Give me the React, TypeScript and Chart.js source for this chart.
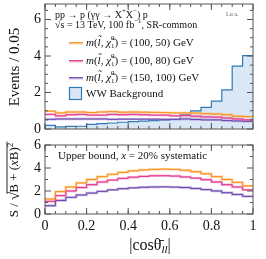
import React, { useEffect, useRef } from 'react';
import { Chart, registerables } from 'chart.js';
Chart.register(...registerables);

// ---------- data ----------
const binEdges = [0, 0.05, 0.1, 0.15, 0.2, 0.25, 0.3, 0.35, 0.4, 0.45, 0.5, 0.55, 0.6, 0.65, 0.7, 0.75, 0.8, 0.85, 0.9, 0.95];
const upperEdge = 1;
const wwBackground = [0.2, 0.12, 0.14, 0.15, 0.25, 0.29, 0.33, 0.37, 0.4, 0.43, 0.46, 0.49, 0.53, 0.8, 0.99, 1.19, 1.53, 2.14, 3.45, 4.02];
const events100_50 = [0.98, 0.88, 0.93, 0.93, 0.9, 0.93, 0.95, 0.92, 0.93, 0.92, 0.91, 0.9, 0.88, 0.88, 0.87, 0.84, 0.82, 0.78, 0.7, 0.68];
const events100_80 = [0.8, 0.72, 0.78, 0.8, 0.76, 0.76, 0.8, 0.78, 0.8, 0.78, 0.76, 0.76, 0.72, 0.74, 0.7, 0.66, 0.65, 0.6, 0.55, 0.5];
const events150_100 = [0.53, 0.55, 0.55, 0.55, 0.55, 0.55, 0.53, 0.54, 0.54, 0.54, 0.54, 0.53, 0.53, 0.55, 0.52, 0.5, 0.5, 0.46, 0.44, 0.42];
const signif100_50 = [1.3, 1.95, 2.35, 2.7, 3.0, 3.25, 3.45, 3.62, 3.75, 3.83, 3.88, 3.9, 3.88, 3.8, 3.68, 3.5, 3.25, 3.0, 2.75, 2.45];
const signif100_80 = [1.1, 1.6, 2.0, 2.3, 2.55, 2.78, 2.95, 3.1, 3.2, 3.27, 3.32, 3.33, 3.3, 3.22, 3.12, 2.98, 2.78, 2.55, 2.35, 2.1];
const signif150_100 = [0.72, 1.18, 1.45, 1.65, 1.82, 1.97, 2.1, 2.2, 2.27, 2.32, 2.35, 2.36, 2.34, 2.3, 2.22, 2.12, 2.0, 1.85, 1.7, 1.53];
const massLabels = ['(100, 50) GeV', '(100, 80) GeV', '(150, 100) GeV'];
const backgroundLabel = 'WW Background';
const xTicks = [0, 0.2, 0.4, 0.6, 0.8, 1];
const topYTicks = [0, 2, 4, 6];
const topYMinor = [0.5, 1, 1.5, 2.5, 3, 3.5, 4.5, 5, 5.5, 6.5];
const bottomYTicks = [0, 2, 4, 6];
const bottomYMinor = [1, 3, 5];
const topYMax = 6.85;
const bottomYMax = 6;

// ---------- style ----------
const SERIF = '"Liberation Serif", "DejaVu Serif", serif';
const COLORS = [
  { line: '#f7901e', band: 'rgba(255,190,120,0.75)' },
  { line: '#e2318a', band: 'rgba(240,150,195,0.75)' },
  { line: '#6a44a8', band: 'rgba(175,155,215,0.75)' },
];
const BG_LINE = '#2c7bb8';
const BG_FILL = 'rgba(210,227,244,0.85)';

function toSteps(vals: number[]) {
  const pts = vals.map((v, i) => ({ x: binEdges[i], y: v }));
  pts.push({ x: upperEdge, y: vals[vals.length - 1] });
  return pts;
}

type Seg = { t: string; italic?: boolean; size?: number; dy?: number; dx?: number; noAdvance?: boolean };
function drawRich(ctx: CanvasRenderingContext2D, x: number, y: number, segs: Seg[], base: number) {
  let cx = x;
  for (const s of segs) {
    const size = s.size ?? base;
    ctx.font = `${s.italic ? 'italic ' : ''}${size}px ${SERIF}`;
    ctx.fillText(s.t, cx + (s.dx ?? 0), y + (s.dy ?? 0));
    if (!s.noAdvance) cx += ctx.measureText(s.t).width + (s.dx ?? 0);
  }
  return cx;
}

function lineSets(data: number[][], yAxis: string) {
  const out: any[] = [];
  data.forEach((vals, i) => {
    out.push({
      data: toSteps(vals), stepped: 'before', borderColor: COLORS[i].band, borderWidth: 2.4,
      pointRadius: 0, fill: false, order: 10 + i, yAxisID: yAxis,
    });
    out.push({
      data: toSteps(vals), stepped: 'before', borderColor: COLORS[i].line, borderWidth: 1,
      pointRadius: 0, fill: false, order: 1 + i, yAxisID: yAxis,
    });
  });
  return out;
}

const framePlugin = {
  id: 'frameTicks',
  afterDatasetsDraw(chart: any, _args: any, opts: any) {
    const { ctx, chartArea: a, scales } = chart;
    const xs = scales.x, ys = scales.y;
    ctx.save();
    ctx.strokeStyle = '#555';
    ctx.lineWidth = 1;
    ctx.strokeRect(a.left, a.top, a.right - a.left, a.bottom - a.top);
    ctx.beginPath();
    const xt = (v: number, len: number) => {
      const p = xs.getPixelForValue(v);
      ctx.moveTo(p, a.bottom); ctx.lineTo(p, a.bottom - len);
      ctx.moveTo(p, a.top); ctx.lineTo(p, a.top + len);
    };
    const yt = (v: number, len: number) => {
      const p = ys.getPixelForValue(v);
      ctx.moveTo(a.left, p); ctx.lineTo(a.left + len, p);
      ctx.moveTo(a.right, p); ctx.lineTo(a.right - len, p);
    };
    opts.xMinor.forEach((v: number) => xt(v, 3));
    opts.xMajor.forEach((v: number) => xt(v, 6));
    opts.yMinor.forEach((v: number) => yt(v, 3));
    opts.yMajor.forEach((v: number) => yt(v, 6));
    ctx.stroke();
    ctx.restore();
  },
};

const topTextPlugin = {
  id: 'topText',
  afterDraw(chart: any) {
    const ctx: CanvasRenderingContext2D = chart.ctx;
    ctx.save();
    ctx.fillStyle = '#111';
    ctx.textBaseline = 'middle';
    ctx.textAlign = 'left';
    drawRich(ctx, 55, 15, [{ t: 'pp → p (γγ → X' }, { t: '+', size: 7, dy: -4 }, { t: 'X' }, { t: '−', size: 7, dy: -4 }, { t: ') p' }], 10);
    drawRich(ctx, 55, 25.5, [{ t: '√s = 13 TeV, 100 fb' }, { t: '−1', size: 7, dy: -4 }, { t: ', SR-common' }], 10);
    ctx.font = `6px ${SERIF}`;
    ctx.fillStyle = '#666';
    ctx.fillText('Lu a.', 226, 14);
    ctx.fillStyle = '#111';
    const ys = [42.7, 60.7, 77.7];
    massLabels.forEach((lab, i) => {
      ctx.strokeStyle = COLORS[i].band; ctx.lineWidth = 2.4;
      ctx.beginPath(); ctx.moveTo(69, ys[i] + 0.5); ctx.lineTo(83, ys[i] + 0.5); ctx.stroke();
      ctx.strokeStyle = COLORS[i].line; ctx.lineWidth = 1;
      ctx.beginPath(); ctx.moveTo(69, ys[i]); ctx.lineTo(83, ys[i]); ctx.stroke();
      drawRich(ctx, 86, ys[i], [
        { t: 'm', italic: true }, { t: '(' }, { t: 'l\u0303', italic: true }, { t: ', ' },
        { t: 'χ\u0303', italic: true }, { t: '0', size: 7, dy: -5, noAdvance: true }, { t: '1', size: 7, dy: 3 },
        { t: ') = ' + lab },
      ], 11);
    });
    ctx.fillStyle = BG_FILL;
    ctx.fillRect(69.5, 87.5, 12, 12);
    ctx.strokeStyle = BG_LINE; ctx.lineWidth = 1.2;
    ctx.strokeRect(69.5, 87.5, 12, 12);
    ctx.fillStyle = '#111';
    drawRich(ctx, 86, 94, [{ t: backgroundLabel }], 11);
    // y title
    ctx.translate(15, 67);
    ctx.rotate(-Math.PI / 2);
    ctx.textAlign = 'center';
    ctx.font = `15px ${SERIF}`;
    ctx.fillText('Events / 0.05', 0, 0);
    ctx.restore();
  },
};

const bottomTextPlugin = {
  id: 'bottomText',
  afterDraw(chart: any) {
    const ctx: CanvasRenderingContext2D = chart.ctx;
    ctx.save();
    ctx.fillStyle = '#111';
    ctx.textBaseline = 'middle';
    ctx.textAlign = 'left';
    drawRich(ctx, 58, 21.5, [{ t: 'Upper bound, ' }, { t: 'x', italic: true }, { t: ' = 20% systematic' }], 11);
    // x title
    ctx.textBaseline = 'alphabetic';
    const xs: Seg[] = [{ t: '|cos' }, { t: 'θ\u0304' }, { t: 'll', italic: true, size: 11, dy: 3 }, { t: '|' }];
    let w = 0;
    xs.forEach((s) => { ctx.font = `${s.italic ? 'italic ' : ''}${s.size ?? 16}px ${SERIF}`; w += ctx.measureText(s.t).width; });
    drawRich(ctx, 150 - w / 2, 115, xs, 16);
    // y title
    ctx.translate(18, 45);
    ctx.rotate(-Math.PI / 2);
    const base = 13;
    const segA: Seg[] = [{ t: 'S / ' }];
    const segB: Seg[] = [{ t: 'B + (' }, { t: 'x', italic: true }, { t: 'B)' }, { t: '2', size: 9, dy: -5 }];
    const meas = (segs: Seg[]) => segs.reduce((acc, s) => { ctx.font = `${s.italic ? 'italic ' : ''}${s.size ?? base}px ${SERIF}`; return acc + ctx.measureText(s.t).width; }, 0);
    ctx.font = `${base}px ${SERIF}`;
    const wA = meas(segA), wS = ctx.measureText('√').width, wB = meas(segB);
    const total = wA + wS + wB;
    let x0 = -total / 2;
    x0 = drawRich(ctx, x0, 0, segA, base);
    ctx.font = `${base + 2}px ${SERIF}`;
    ctx.fillText('√', x0, 1);
    const sx = x0 + wS;
    ctx.strokeStyle = '#111'; ctx.lineWidth = 0.9;
    ctx.beginPath(); ctx.moveTo(sx - 1, -11); ctx.lineTo(sx + wB + 1, -11); ctx.stroke();
    drawRich(ctx, sx, 0, segB, base);
    ctx.restore();
  },
};

function axisY(ticks: number[], max: number) {
  return {
    min: 0, max,
    afterBuildTicks: (s: any) => { s.ticks = ticks.map((v) => ({ value: v })); },
    afterFit: (s: any) => { s.width = 45; s.paddingTop = 0; s.paddingBottom = 0; },
    grid: { display: false, drawTicks: false },
    border: { display: false },
    ticks: { font: { family: SERIF, size: 14 }, color: '#111', padding: 4, callback: (v: any) => String(v) },
  };
}

export default function App() {
  const topRef = useRef<HTMLCanvasElement>(null);
  const botRef = useRef<HTMLCanvasElement>(null);
  useEffect(() => {
    document.body.style.margin = '0';
    const top = new Chart(topRef.current!, {
      type: 'line',
      data: {
        datasets: [
          {
            data: toSteps(wwBackground), stepped: 'before', borderColor: BG_LINE, borderWidth: 1.2,
            backgroundColor: BG_FILL, fill: 'origin', pointRadius: 0, order: 30, yAxisID: 'y',
          } as any,
          ...lineSets([events100_50, events100_80, events150_100], 'y'),
        ],
      },
      options: {
        animation: false, responsive: false, maintainAspectRatio: false,
        layout: { padding: { left: 0, right: 13, top: 4, bottom: 11 } },
        scales: {
          x: { type: 'linear', min: 0, max: 1, display: false },
          y: axisY(topYTicks, topYMax) as any,
        },
        plugins: {
          legend: { display: false }, tooltip: { enabled: false },
          frameTicks: { xMajor: xTicks, xMinor: binEdges, yMajor: topYTicks, yMinor: topYMinor },
        } as any,
      },
      plugins: [framePlugin, topTextPlugin],
    });
    const bot = new Chart(botRef.current!, {
      type: 'line',
      data: { datasets: lineSets([signif100_50, signif100_80, signif150_100], 'y') },
      options: {
        animation: false, responsive: false, maintainAspectRatio: false,
        layout: { padding: { left: 0, right: 13, top: 10, bottom: 0 } },
        scales: {
          x: {
            type: 'linear', min: 0, max: 1,
            afterBuildTicks: (s: any) => { s.ticks = xTicks.map((v) => ({ value: v })); },
            afterFit: (s: any) => { s.height = 45; s.paddingLeft = 0; s.paddingRight = 0; },
            grid: { display: false, drawTicks: false },
            border: { display: false },
            ticks: { font: { family: SERIF, size: 14 }, color: '#111', padding: 4, maxRotation: 0, autoSkip: false, callback: (v: any) => String(v) },
          },
          y: axisY(bottomYTicks, bottomYMax) as any,
        },
        plugins: {
          legend: { display: false }, tooltip: { enabled: false },
          frameTicks: { xMajor: xTicks, xMinor: binEdges, yMajor: bottomYTicks, yMinor: bottomYMinor },
        } as any,
      },
      plugins: [framePlugin, bottomTextPlugin],
    });
    return () => { top.destroy(); bot.destroy(); };
  }, []);
  return (
    <div style={{ position: 'relative', width: 266, height: 259, background: '#fff' }}>
      <canvas ref={topRef} width={266} height={140} style={{ position: 'absolute', left: 0, top: 0, width: 266, height: 140 }} />
      <canvas ref={botRef} width={266} height={124} style={{ position: 'absolute', left: 0, top: 135, width: 266, height: 124 }} />
    </div>
  );
}
